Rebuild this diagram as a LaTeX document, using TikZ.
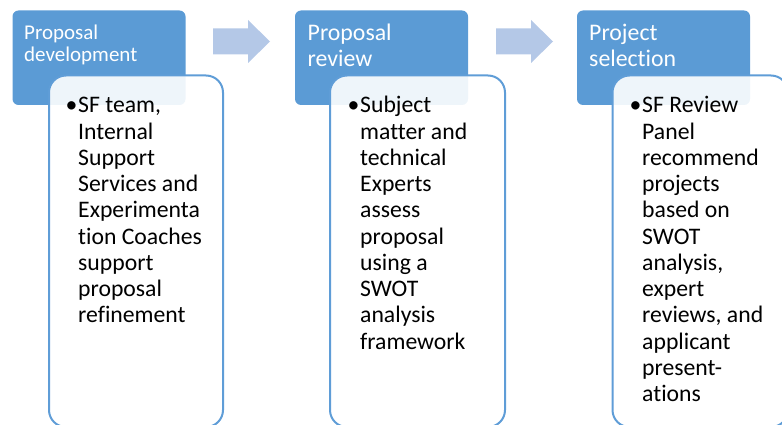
\documentclass[tikz,border=0pt]{standalone}
\usepackage{fontspec}
\setmainfont{Carlito}[Ligatures={NoCommon,NoContextual}]
\begin{document}
\begin{tikzpicture}[x=1pt,y=-1pt,
  accent/.style={fill=hdrblue, draw=none, rounded corners=6pt},
  detailbox/.style={fill=white, fill opacity=0.9, draw=lineblue, line width=2pt, rounded corners=17pt},
  flowarrow/.style={fill=arrowblue, draw=none},
  hdrtext/.style={anchor=base west, inner sep=0pt, text=white,
    font=\fontsize{23.8}{26}\selectfont},
  hdrsmall/.style={hdrtext, font=\fontsize{21}{22.3}\selectfont},
  bodytext/.style={anchor=base west, inner sep=0pt, text=black,
    font=\fontsize{23.7}{26.25}\selectfont}]
\definecolor{hdrblue}{HTML}{5B9BD5}
\definecolor{lineblue}{HTML}{5F9DD7}
\definecolor{arrowblue}{HTML}{B4C8E7}
\useasboundingbox (0,0) rectangle (782,425);
\clip (0,0) rectangle (782,425);

% stage 1
\draw[accent] (12.5,10.5) rectangle (185.5,105) node[coordinate] (h1) {};
\node[hdrsmall] (t1) at (24,39.5) {\parbox[t]{160pt}{Proposal\\development}};
\draw[detailbox] (49,75.5) rectangle (223,427) node[coordinate] (c1) {};
\node[bodytext] (b1) at (65.5,113) {\makebox[12.5pt][l]{•}\parbox[t]{150pt}{\raggedright
SF team,\\Internal\\Support\\Services and\\Experimenta\\tion Coaches\\support\\proposal\\refinement}};

% stage 2
\draw[accent] (295,10.5) rectangle (468,105) node[coordinate] (h2) {};
\node[hdrtext] (t2) at (307.5,41) {\parbox[t]{160pt}{Proposal\\review}};
\draw[detailbox] (330,75.5) rectangle (505,427) node[coordinate] (c2) {};
\node[bodytext] (b2) at (347.5,113) {\makebox[12.5pt][l]{•}\parbox[t]{150pt}{\raggedright
Subject\\matter and\\technical\\Experts\\assess\\proposal\\using a\\SWOT\\analysis\\framework}};

% stage 3
\draw[accent] (577,10.5) rectangle (750,105) node[coordinate] (h3) {};
\node[hdrtext] (t3) at (589,41) {\parbox[t]{160pt}{Project\\selection}};
\draw[detailbox] (612.5,75.5) rectangle (788,427) node[coordinate] (c3) {};
\node[bodytext] (b3) at (629.5,113) {\makebox[12.5pt][l]{•}\parbox[t]{150pt}{\raggedright
SF Review\\Panel\\recommend\\projects\\based on\\SWOT\\analysis,\\expert\\reviews, and\\applicant\\present-\\ations}};

% arrows between stages
\fill[flowarrow] (213,28.5) -- (248,28.5) -- (248,20) -- (270,41.5) -- (248,63) -- (248,54.5) -- (213,54.5) -- cycle;
\fill[flowarrow] (496,28.5) -- (531,28.5) -- (531,20) -- (553,41.5) -- (531,63) -- (531,54.5) -- (496,54.5) -- cycle;
\end{tikzpicture}
\end{document}
